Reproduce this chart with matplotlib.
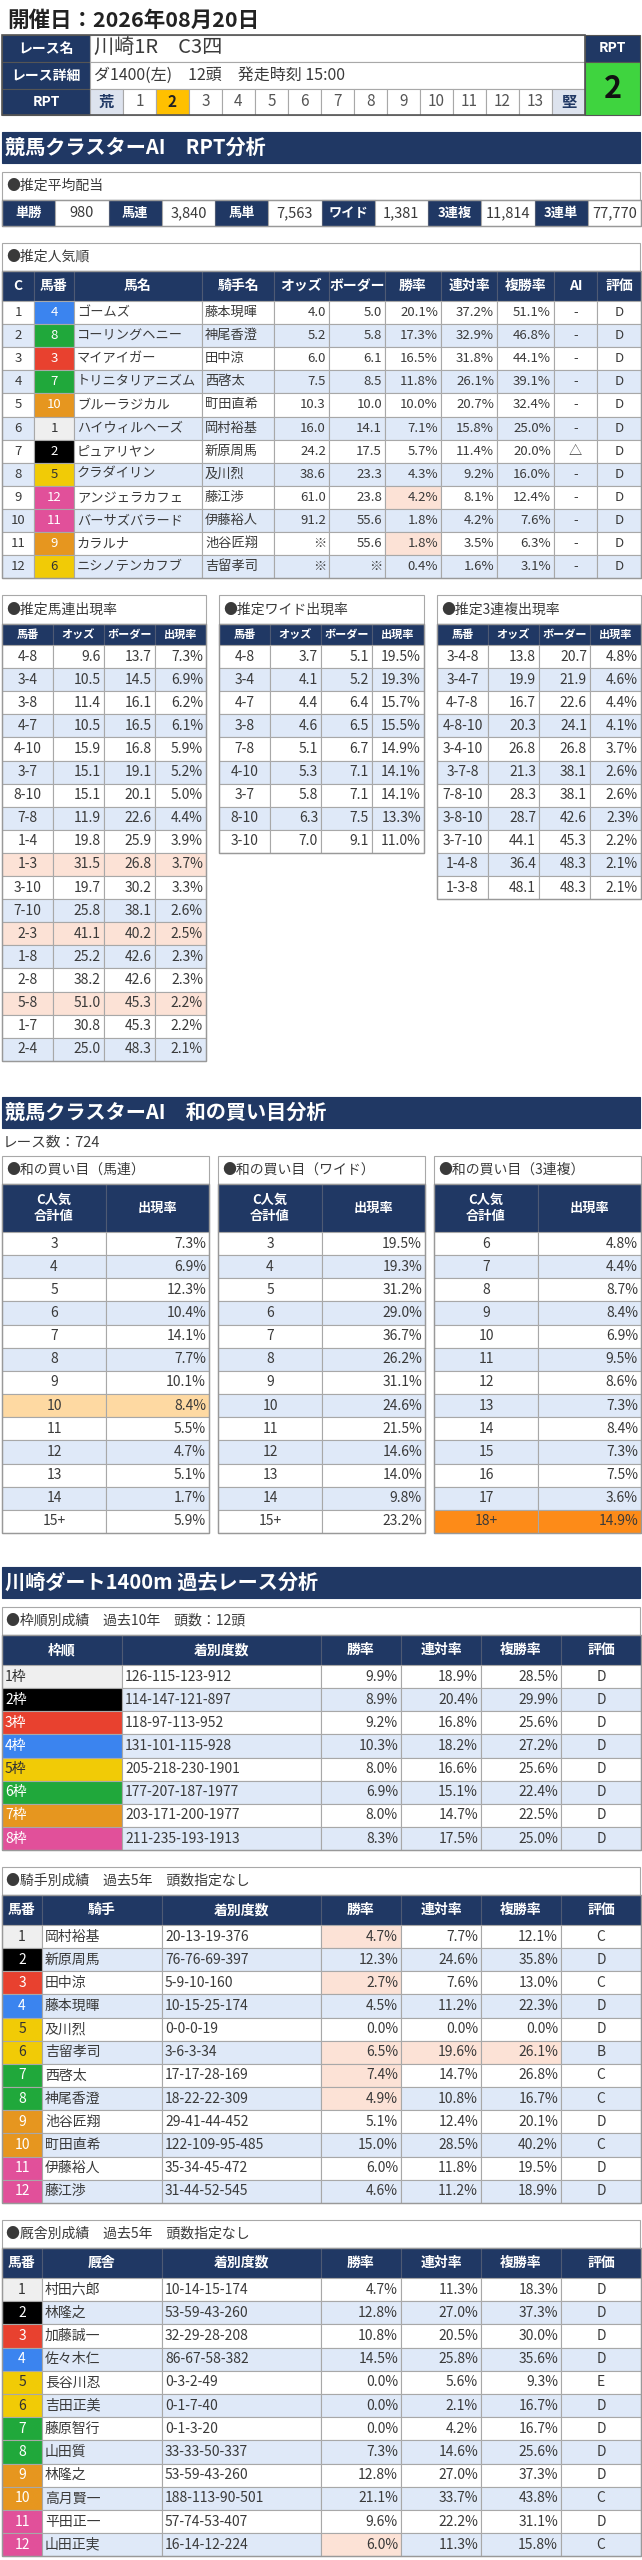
import matplotlib.pyplot as plt
from matplotlib.patches import Rectangle

plt.rcParams['font.family'] = ['Noto Sans CJK JP', 'DejaVu Sans']

# ---- data ----
race_date = '開催日：2026年08月20日'
race_name = '川崎1R　C3四'
race_detail = 'ダ1400(左)　12頭　発走時刻 15:00'
rpt_scale = ['荒', '1', '2', '3', '4', '5', '6', '7', '8', '9', '10', '11', '12', '13', '堅']
rpt_value = 2

payout_kind = ['単勝', '馬連', '馬単', 'ワイド', '3連複', '3連単']
payout_value = ['980', '3,840', '7,563', '1,381', '11,814', '77,770']

pop_rank = ['1', '2', '3', '4', '5', '6', '7', '8', '9', '10', '11', '12']
pop_num = [4, 8, 3, 7, 10, 1, 2, 5, 12, 11, 9, 6]
pop_name = ['ゴームズ', 'コーリングヘニー', 'マイアイガー', 'トリニタリアニズム', 'ブルーラジカル',
            'ハイウィルヘーズ', 'ピュアリヤン', 'クラダイリン', 'アンジェラカフェ', 'バーサズバラード',
            'カラルナ', 'ニシノテンカフブ']
pop_jockey = ['藤本現暉', '神尾香澄', '田中涼', '西啓太', '町田直希', '岡村裕基', '新原周馬', '及川烈',
              '藤江渉', '伊藤裕人', '池谷匠翔', '吉留孝司']
pop_odds = ['4.0', '5.2', '6.0', '7.5', '10.3', '16.0', '24.2', '38.6', '61.0', '91.2', '※', '※']
pop_border = ['5.0', '5.8', '6.1', '8.5', '10.0', '14.1', '17.5', '23.3', '23.8', '55.6', '55.6', '※']
pop_win = ['20.1%', '17.3%', '16.5%', '11.8%', '10.0%', '7.1%', '5.7%', '4.3%', '4.2%', '1.8%', '1.8%', '0.4%']
pop_rentai = ['37.2%', '32.9%', '31.8%', '26.1%', '20.7%', '15.8%', '11.4%', '9.2%', '8.1%', '4.2%', '3.5%', '1.6%']
pop_fuku = ['51.1%', '46.8%', '44.1%', '39.1%', '32.4%', '25.0%', '20.0%', '16.0%', '12.4%', '7.6%', '6.3%', '3.1%']
pop_ai = ['-', '-', '-', '-', '-', '-', '△', '-', '-', '-', '-', '-']
pop_eval = ['D'] * 12
pop_hot = [(8, 6), (10, 6)]

umaren_combo = ['4-8', '3-4', '3-8', '4-7', '4-10', '3-7', '8-10', '7-8', '1-4', '1-3', '3-10', '7-10',
                '2-3', '1-8', '2-8', '5-8', '1-7', '2-4']
umaren_odds = ['9.6', '10.5', '11.4', '10.5', '15.9', '15.1', '15.1', '11.9', '19.8', '31.5', '19.7', '25.8',
               '41.1', '25.2', '38.2', '51.0', '30.8', '25.0']
umaren_border = ['13.7', '14.5', '16.1', '16.5', '16.8', '19.1', '20.1', '22.6', '25.9', '26.8', '30.2', '38.1',
                 '40.2', '42.6', '42.6', '45.3', '45.3', '48.3']
umaren_rate = ['7.3%', '6.9%', '6.2%', '6.1%', '5.9%', '5.2%', '5.0%', '4.4%', '3.9%', '3.7%', '3.3%', '2.6%',
               '2.5%', '2.3%', '2.3%', '2.2%', '2.2%', '2.1%']
umaren_hot_rows = [9, 12, 15]

wide_combo = ['4-8', '3-4', '4-7', '3-8', '7-8', '4-10', '3-7', '8-10', '3-10']
wide_odds = ['3.7', '4.1', '4.4', '4.6', '5.1', '5.3', '5.8', '6.3', '7.0']
wide_border = ['5.1', '5.2', '6.4', '6.5', '6.7', '7.1', '7.1', '7.5', '9.1']
wide_rate = ['19.5%', '19.3%', '15.7%', '15.5%', '14.9%', '14.1%', '14.1%', '13.3%', '11.0%']

trio_combo = ['3-4-8', '3-4-7', '4-7-8', '4-8-10', '3-4-10', '3-7-8', '7-8-10', '3-8-10', '3-7-10', '1-4-8', '1-3-8']
trio_odds = ['13.8', '19.9', '16.7', '20.3', '26.8', '21.3', '28.3', '28.7', '44.1', '36.4', '48.1']
trio_border = ['20.7', '21.9', '22.6', '24.1', '26.8', '38.1', '38.1', '42.6', '45.3', '48.3', '48.3']
trio_rate = ['4.8%', '4.6%', '4.4%', '4.1%', '3.7%', '2.6%', '2.6%', '2.3%', '2.2%', '2.1%', '2.1%']

race_count = 'レース数：724'
sum_pair_keys = ['3', '4', '5', '6', '7', '8', '9', '10', '11', '12', '13', '14', '15+']
sum_umaren_rate = ['7.3%', '6.9%', '12.3%', '10.4%', '14.1%', '7.7%', '10.1%', '8.4%', '5.5%', '4.7%', '5.1%', '1.7%', '5.9%']
sum_wide_rate = ['19.5%', '19.3%', '31.2%', '29.0%', '36.7%', '26.2%', '31.1%', '24.6%', '21.5%', '14.6%', '14.0%', '9.8%', '23.2%']
sum_trio_keys = ['6', '7', '8', '9', '10', '11', '12', '13', '14', '15', '16', '17', '18+']
sum_trio_rate = ['4.8%', '4.4%', '8.7%', '8.4%', '6.9%', '9.5%', '8.6%', '7.3%', '8.4%', '7.3%', '7.5%', '3.6%', '14.9%']

waku_label = ['1枠', '2枠', '3枠', '4枠', '5枠', '6枠', '7枠', '8枠']
waku_record = ['126-115-123-912', '114-147-121-897', '118-97-113-952', '131-101-115-928',
               '205-218-230-1901', '177-207-187-1977', '203-171-200-1977', '211-235-193-1913']
waku_win = ['9.9%', '8.9%', '9.2%', '10.3%', '8.0%', '6.9%', '8.0%', '8.3%']
waku_rentai = ['18.9%', '20.4%', '16.8%', '18.2%', '16.6%', '15.1%', '14.7%', '17.5%']
waku_fuku = ['28.5%', '29.9%', '25.6%', '27.2%', '25.6%', '22.4%', '22.5%', '25.0%']
waku_eval = ['D'] * 8

horse_num = ['1', '2', '3', '4', '5', '6', '7', '8', '9', '10', '11', '12']
jockey_name = ['岡村裕基', '新原周馬', '田中涼', '藤本現暉', '及川烈', '吉留孝司', '西啓太', '神尾香澄',
               '池谷匠翔', '町田直希', '伊藤裕人', '藤江渉']
jockey_record = ['20-13-19-376', '76-76-69-397', '5-9-10-160', '10-15-25-174', '0-0-0-19', '3-6-3-34',
                 '17-17-28-169', '18-22-22-309', '29-41-44-452', '122-109-95-485', '35-34-45-472', '31-44-52-545']
jockey_win = ['4.7%', '12.3%', '2.7%', '4.5%', '0.0%', '6.5%', '7.4%', '4.9%', '5.1%', '15.0%', '6.0%', '4.6%']
jockey_rentai = ['7.7%', '24.6%', '7.6%', '11.2%', '0.0%', '19.6%', '14.7%', '10.8%', '12.4%', '28.5%', '11.8%', '11.2%']
jockey_fuku = ['12.1%', '35.8%', '13.0%', '22.3%', '0.0%', '26.1%', '26.8%', '16.7%', '20.1%', '40.2%', '19.5%', '18.9%']
jockey_eval = ['C', 'D', 'C', 'D', 'D', 'B', 'C', 'C', 'D', 'C', 'D', 'D']
jockey_hot = [(0, 3), (2, 3), (5, 3), (5, 4), (5, 5), (6, 3), (7, 3)]

trainer_name = ['村田六郎', '林隆之', '加藤誠一', '佐々木仁', '長谷川忍', '吉田正美', '藤原智行', '山田質',
                '林隆之', '高月賢一', '平田正一', '山田正実']
trainer_record = ['10-14-15-174', '53-59-43-260', '32-29-28-208', '86-67-58-382', '0-3-2-49', '0-1-7-40',
                  '0-1-3-20', '33-33-50-337', '53-59-43-260', '188-113-90-501', '57-74-53-407', '16-14-12-224']
trainer_win = ['4.7%', '12.8%', '10.8%', '14.5%', '0.0%', '0.0%', '0.0%', '7.3%', '12.8%', '21.1%', '9.6%', '6.0%']
trainer_rentai = ['11.3%', '27.0%', '20.5%', '25.8%', '5.6%', '2.1%', '4.2%', '14.6%', '27.0%', '33.7%', '22.2%', '11.3%']
trainer_fuku = ['18.3%', '37.3%', '30.0%', '35.6%', '9.3%', '16.7%', '16.7%', '25.6%', '37.3%', '43.8%', '31.1%', '15.8%']
trainer_eval = ['D', 'D', 'D', 'D', 'E', 'D', 'D', 'D', 'D', 'C', 'D', 'C']
trainer_hot = [(11, 3)]

# ---- styles ----
NAVY = '#203864'
GRID = '#a8a8a8'
HEAD_EDGE = '#4e5a74'
TXT = '#3a3a3a'
BLUE_ROW = '#dfe9f8'
PEACH = '#fce2d6'
LIGHT_OR = '#fed9a2'
ORANGE = '#fd8b18'
waku_fc = ['#efefef', '#000000', '#e8412f', '#3b84ef', '#f1cb06', '#20a83b', '#e6961f', '#e1509a']
waku_tc = ['#333333', 'white', 'white', 'white', '#333333', 'white', 'white', 'white']
num_to_waku = {1: 0, 2: 1, 3: 2, 4: 3, 5: 4, 6: 4, 7: 5, 8: 5, 9: 6, 10: 6, 11: 7, 12: 7}

fig = plt.figure(figsize=(6.42, 25.6), dpi=100)
ax = fig.add_axes([0, 0, 1, 1])
ax.set_xlim(0, 642)
ax.set_ylim(2560, 0)
ax.axis('off')


def rect(x0, y0, x1, y1, fc='white', ec=GRID, lw=0.8):
    ax.add_patch(Rectangle((x0, y0), x1 - x0, y1 - y0, facecolor=fc, edgecolor=ec, linewidth=lw))


def put(x0, x1, y0, y1, s, align='center', color=TXT, size=9.5, weight='normal'):
    if align == 'left':
        x, ha = x0 + 3, 'left'
    elif align == 'right':
        x, ha = x1 - 3, 'right'
    else:
        x, ha = (x0 + x1) / 2, 'center'
    ax.text(x, (y0 + y1) / 2, s, ha=ha, va='center', color=color, fontsize=size, fontweight=weight)


def bar(y0, y1, s):
    rect(2, y0, 640, y1, fc=NAVY, ec=NAVY)
    ax.text(5, (y0 + y1) / 2, s, ha='left', va='center', color='white', fontsize=14.5, fontweight='bold')


def label(x0, x1, y0, y1, s):
    rect(x0, y0, x1, y1, fc='white', ec=GRID)
    ax.text(x0 + 4, (y0 + y1) / 2, s, ha='left', va='center', color=TXT, fontsize=10)


def table(xs, y0, head_h, row_h, heads, cols, aligns, style=None, head_size=9.5, size=9.5):
    for j, h in enumerate(heads):
        rect(xs[j], y0, xs[j + 1], y0 + head_h, fc=NAVY, ec=HEAD_EDGE)
        put(xs[j], xs[j + 1], y0, y0 + head_h, h, color='white', size=head_size, weight='bold')
    for i in range(len(cols[0])):
        ya = y0 + head_h + i * row_h
        yb = ya + row_h
        for j, col in enumerate(cols):
            fc = 'white' if i % 2 == 0 else BLUE_ROW
            tc = TXT
            if style:
                st = style(i, j)
                if st:
                    fc, tc = st
            rect(xs[j], ya, xs[j + 1], yb, fc=fc)
            put(xs[j], xs[j + 1], ya, yb, col[i], align=aligns[j], color=tc, size=size)
    rect(xs[0], y0, xs[-1], y0 + head_h + len(cols[0]) * row_h, fc='none', ec='#999999', lw=1.0)


# ---- header ----
ax.text(7, 20, race_date, ha='left', va='center', color='#222222', fontsize=15.5, fontweight='bold')
rows_y = [35, 62, 89, 115]
for k, lab in enumerate(['レース名', 'レース詳細', 'RPT']):
    rect(2, rows_y[k], 90, rows_y[k + 1], fc=NAVY, ec='#555555')
    put(2, 90, rows_y[k], rows_y[k + 1], lab, color='white', size=10, weight='bold')
rect(90, 35, 585, 62)
ax.text(94, 48.5, race_name, ha='left', va='center', color=TXT, fontsize=14.5)
rect(90, 62, 585, 89)
ax.text(94, 75.5, race_detail, ha='left', va='center', color=TXT, fontsize=11.5)
cw = (585 - 90) / len(rpt_scale)
for k, s in enumerate(rpt_scale):
    xa = 90 + k * cw
    if s in ('荒', '堅'):
        rect(xa, 89, xa + cw, 115, fc='#dde3ee')
        put(xa, xa + cw, 89, 115, s, color=NAVY, size=11, weight='bold')
    elif s == str(rpt_value):
        rect(xa, 89, xa + cw, 115, fc='#ffc000')
        put(xa, xa + cw, 89, 115, s, color='#222222', size=11, weight='bold')
    else:
        rect(xa, 89, xa + cw, 115)
        put(xa, xa + cw, 89, 115, s, color='#555555', size=11)
rect(2, 35, 585, 115, fc='none', ec='#555555', lw=1.2)
rect(585, 35, 640, 62, fc=NAVY, ec='#555555')
put(585, 640, 35, 62, 'RPT', color='white', size=10, weight='bold')
rect(585, 62, 640, 115, fc='#3fd43f', ec='#555555')
put(585, 640, 62, 115, str(rpt_value), color='#111111', size=22, weight='bold')

# ---- RPT analysis ----
bar(132, 163, '競馬クラスターAI　RPT分析')
label(2, 640, 172, 200, '●推定平均配当')
pw = (641 - 2) / 12
for k in range(6):
    xa = 2 + 2 * k * pw
    rect(xa, 200, xa + pw, 226, fc=NAVY, ec=HEAD_EDGE)
    put(xa, xa + pw, 200, 226, payout_kind[k], color='white', size=9.5, weight='bold')
    rect(xa + pw, 200, xa + 2 * pw, 226)
    put(xa + pw, xa + 2 * pw, 200, 226, payout_value[k], size=10.5)
rect(2, 200, 641, 226, fc='none', ec='#999999', lw=1.0)

label(2, 640, 243, 271, '●推定人気順')
pop_x = [2, 34, 74, 202, 274, 329, 385, 441, 497, 554, 597, 641]


def pop_style(i, j):
    if j == 1:
        w = num_to_waku[pop_num[i]]
        return waku_fc[w], waku_tc[w]
    if (i, j) in pop_hot:
        return PEACH, TXT
    return None


table(pop_x, 271, 30, 23.1,
      ['C', '馬番', '馬名', '騎手名', 'オッズ', 'ボーダー', '勝率', '連対率', '複勝率', 'AI', '評価'],
      [pop_rank, [str(n) for n in pop_num], pop_name, pop_jockey, pop_odds, pop_border,
       pop_win, pop_rentai, pop_fuku, pop_ai, pop_eval],
      ['center', 'center', 'left', 'left', 'right', 'right', 'right', 'right', 'right', 'center', 'center'],
      style=pop_style, head_size=10, size=9.5)

small_heads = ['馬番', 'オッズ', 'ボーダー', '出現率']
small_align = ['center', 'right', 'right', 'right']
label(2, 206, 595, 624, '●推定馬連出現率')
table([2, 53, 104, 155, 206], 624, 21, 23.1, small_heads,
      [umaren_combo, umaren_odds, umaren_border, umaren_rate], small_align,
      style=lambda i, j: (PEACH, TXT) if i in umaren_hot_rows else None, head_size=8, size=10)
label(219, 424, 595, 624, '●推定ワイド出現率')
table([219, 270, 321, 372, 424], 624, 21, 23.1, small_heads,
      [wide_combo, wide_odds, wide_border, wide_rate], small_align, head_size=8, size=10)
label(437, 641, 595, 624, '●推定3連複出現率')
table([437, 488, 539, 590, 641], 624, 21, 23.1, small_heads,
      [trio_combo, trio_odds, trio_border, trio_rate], small_align, head_size=8, size=10)

# ---- sum analysis ----
bar(1097, 1128, '競馬クラスターAI　和の買い目分析')
ax.text(3, 1142, race_count, ha='left', va='center', color=TXT, fontsize=10.5)
sum_heads = ['C人気\n合計値', '出現率']
label(2, 209, 1156, 1184, '●和の買い目（馬連）')
table([2, 106, 209], 1184, 48, 23.15, sum_heads, [sum_pair_keys, sum_umaren_rate], ['center', 'right'],
      style=lambda i, j: (LIGHT_OR, TXT) if i == 7 else None, head_size=9.5, size=10)
label(218, 425, 1156, 1184, '●和の買い目（ワイド）')
table([218, 322, 425], 1184, 48, 23.15, sum_heads, [sum_pair_keys, sum_wide_rate], ['center', 'right'],
      head_size=9.5, size=10)
label(434, 641, 1156, 1184, '●和の買い目（3連複）')
table([434, 538, 641], 1184, 48, 23.15, sum_heads, [sum_trio_keys, sum_trio_rate], ['center', 'right'],
      style=lambda i, j: (ORANGE, TXT) if i == 12 else None, head_size=9.5, size=10)

# ---- past races ----
bar(1567, 1598, '川崎ダート1400m 過去レース分析')
label(2, 640, 1607, 1635, '●枠順別成績　過去10年　頭数：12頭')
table([2, 122, 321, 401, 481, 561, 641], 1635, 30, 23.15,
      ['枠順', '着別度数', '勝率', '連対率', '複勝率', '評価'],
      [waku_label, waku_record, waku_win, waku_rentai, waku_fuku, waku_eval],
      ['left', 'left', 'right', 'right', 'right', 'center'],
      style=lambda i, j: (waku_fc[i], waku_tc[i]) if j == 0 else None, head_size=10, size=10)

rec_x = [2, 42, 162, 321, 401, 481, 561, 641]
rec_align = ['center', 'left', 'left', 'right', 'right', 'right', 'center']


def rec_style(hot):
    def f(i, j):
        if j == 0:
            w = num_to_waku[i + 1]
            return waku_fc[w], waku_tc[w]
        if (i, j) in hot:
            return PEACH, TXT
        return None
    return f


label(2, 640, 1867, 1895, '●騎手別成績　過去5年　頭数指定なし')
table(rec_x, 1895, 30, 23.15, ['馬番', '騎手', '着別度数', '勝率', '連対率', '複勝率', '評価'],
      [horse_num, jockey_name, jockey_record, jockey_win, jockey_rentai, jockey_fuku, jockey_eval],
      rec_align, style=rec_style(jockey_hot), head_size=10, size=10)

label(2, 640, 2220, 2248, '●厩舎別成績　過去5年　頭数指定なし')
table(rec_x, 2248, 30, 23.2, ['馬番', '厩舎', '着別度数', '勝率', '連対率', '複勝率', '評価'],
      [horse_num, trainer_name, trainer_record, trainer_win, trainer_rentai, trainer_fuku, trainer_eval],
      rec_align, style=rec_style(trainer_hot), head_size=10, size=10)

fig.savefig('out.png', dpi=100, facecolor='white')
